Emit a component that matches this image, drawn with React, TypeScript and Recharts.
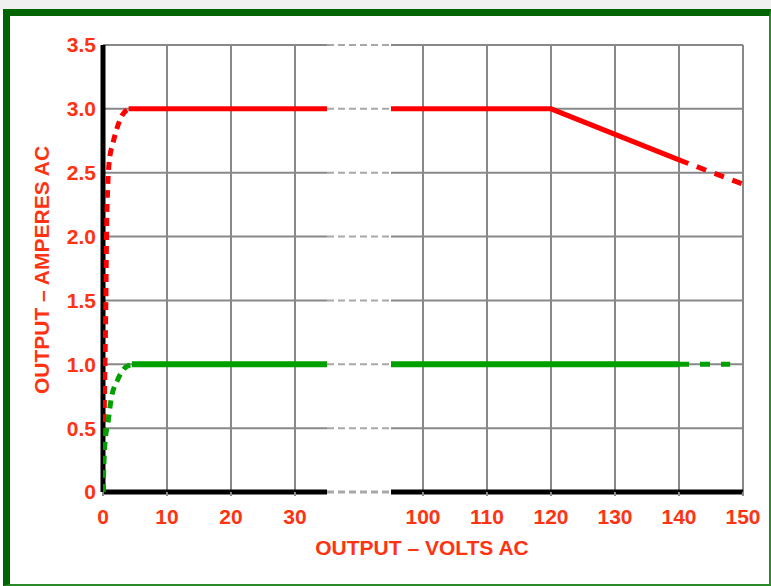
import React from 'react';
import { LineChart, Line, XAxis, YAxis, CartesianGrid, ReferenceLine } from 'recharts';

// axis is broken between 35 V and 95 V; values above the break are shifted left by 50
const BREAK_LO = 35;
const BREAK_HI = 95;
const SHIFT = 50;

const xTicks = [0, 10, 20, 30, 100, 110, 120, 130, 140, 150];
const yTicks = [0, 0.5, 1.0, 1.5, 2.0, 2.5, 3.0, 3.5];

// red (3 A) curve
const redRiseV = [0, 0.15, 0.3, 0.45, 0.55, 0.75, 1.0, 1.5, 2.2, 3.0, 4.0];
const redRiseA = [0, 0.5, 1.0, 1.5, 2.0, 2.4, 2.6, 2.72, 2.85, 2.95, 3.0];
const redLowV = [4, 35];
const redLowA = [3.0, 3.0];
const redHighV = [95, 120, 140];
const redHighA = [3.0, 3.0, 2.6];
const redTailV = [140, 150];
const redTailA = [2.6, 2.41];

// green (1 A) curve
const greenRiseV = [0, 0.15, 0.3, 0.8, 1.25, 2.3, 3.2, 4.5];
const greenRiseA = [0, 0.23, 0.38, 0.55, 0.72, 0.88, 0.96, 1.0];
const greenLowV = [4.5, 35];
const greenLowA = [1.0, 1.0];
const greenHighV = [95, 140];
const greenHighA = [1.0, 1.0];
const greenTailV = [140, 148];
const greenTailA = [1.0, 1.0];

const toAxis = (v: number) => (v >= BREAK_HI ? v - SHIFT : v);
const fromAxis = (v: number) => (v >= BREAK_HI - SHIFT ? v + SHIFT : v);
const pts = (xs: number[], ys: number[]) => xs.map((x, i) => ({ x: toAxis(x), y: ys[i] }));

const RED = '#ff0000';
const GREEN = '#00a000';
const TEXT = '#ff3311';
const GRID = '#888888';
const GAP = '#a8a8a8';
const font = '"Liberation Sans", Arial, sans-serif';
const FS = 21;

const lo = BREAK_LO;
const hi = toAxis(BREAK_HI);
const end = toAxis(150);

export default function App() {
  return (
    <div style={{ position: 'absolute', left: 0, top: 0, width: 771, height: 586, background: '#fff', fontFamily: font }}>
      <div style={{ position: 'absolute', left: 0, top: 0, width: 771, height: 9, background: '#f0f0f0' }} />
      <div
        style={{
          position: 'absolute',
          left: 3,
          top: 9,
          width: 771 - 3 - 7 - 2,
          height: 586 - 9 - 7 - 2,
          borderTop: '7px solid #006400',
          borderLeft: '7px solid #006400',
          borderRight: '2px solid #2a8a2a',
          borderBottom: '2px solid #2a8a2a',
        }}
      />
      <div style={{ position: 'absolute', left: 0, top: 0 }}>
        <LineChart width={771} height={586} margin={{ top: 45, right: 28, left: 40, bottom: 64 }}>
          <CartesianGrid horizontal={false} stroke={GRID} strokeWidth={2} />
          <XAxis
            type="number"
            dataKey="x"
            domain={[0, end]}
            ticks={xTicks.map(toAxis)}
            tickFormatter={(v: number) => String(fromAxis(v))}
            axisLine={false}
            tickLine={{ stroke: GRID, strokeWidth: 2 }}
            tickSize={4}
            tickMargin={13}
            tick={{ fill: TEXT, fontSize: FS, fontWeight: 'bold', fontFamily: font }}
            allowDataOverflow
          />
          <YAxis
            type="number"
            domain={[0, 3.5]}
            ticks={yTicks}
            tickFormatter={(v: number) => (v === 0 ? '0' : v.toFixed(1))}
            axisLine={false}
            tickLine={false}
            tickSize={0}
            tickMargin={7}
            width={63}
            tick={{ fill: TEXT, fontSize: FS, fontWeight: 'bold', fontFamily: font }}
          />
          {yTicks.filter((t) => t > 0).map((t) => (
            <ReferenceLine key={'l' + t} segment={[{ x: 0, y: t }, { x: lo, y: t }]} stroke={GRID} strokeWidth={2} ifOverflow="visible" />
          ))}
          {yTicks.filter((t) => t > 0).map((t) => (
            <ReferenceLine key={'g' + t} segment={[{ x: lo, y: t }, { x: hi, y: t }]} stroke={GAP} strokeWidth={2} strokeDasharray="7 4" ifOverflow="visible" />
          ))}
          {yTicks.filter((t) => t > 0).map((t) => (
            <ReferenceLine key={'r' + t} segment={[{ x: hi, y: t }, { x: end, y: t }]} stroke={GRID} strokeWidth={2} ifOverflow="visible" />
          ))}
          <ReferenceLine segment={[{ x: lo, y: 0 }, { x: hi, y: 0 }]} stroke={GAP} strokeWidth={3} strokeDasharray="7 4" ifOverflow="visible" />
          <ReferenceLine segment={[{ x: 0, y: 0 }, { x: lo, y: 0 }]} stroke="#000" strokeWidth={5} ifOverflow="visible" />
          <ReferenceLine segment={[{ x: hi, y: 0 }, { x: end, y: 0 }]} stroke="#000" strokeWidth={5} ifOverflow="visible" />
          <ReferenceLine segment={[{ x: 0, y: 0 }, { x: 0, y: 3.5 }]} stroke="#000" strokeWidth={5} ifOverflow="visible" />

          <Line data={pts(redRiseV, redRiseA)} dataKey="y" type="monotone" stroke={RED} strokeWidth={5} strokeDasharray="8 6" dot={false} isAnimationActive={false} />
          <Line data={pts(redLowV, redLowA)} dataKey="y" type="linear" stroke={RED} strokeWidth={5} dot={false} isAnimationActive={false} />
          <Line data={pts(redHighV, redHighA)} dataKey="y" type="linear" stroke={RED} strokeWidth={5} dot={false} isAnimationActive={false} />
          <Line data={pts(redTailV, redTailA)} dataKey="y" type="linear" stroke={RED} strokeWidth={5} strokeDasharray="10 9" dot={false} isAnimationActive={false} />
          <Line data={pts(greenRiseV, greenRiseA)} dataKey="y" type="monotone" stroke={GREEN} strokeWidth={5} strokeDasharray="8 6" dot={false} isAnimationActive={false} />
          <Line data={pts(greenLowV, greenLowA)} dataKey="y" type="linear" stroke={GREEN} strokeWidth={6} dot={false} isAnimationActive={false} />
          <Line data={pts(greenHighV, greenHighA)} dataKey="y" type="linear" stroke={GREEN} strokeWidth={6} dot={false} isAnimationActive={false} />
          <Line data={pts(greenTailV, greenTailA)} dataKey="y" type="linear" stroke={GREEN} strokeWidth={5} strokeDasharray="10 11" dot={false} isAnimationActive={false} />
        </LineChart>
      </div>
      <div
        style={{
          position: 'absolute',
          left: 422,
          top: 548,
          transform: 'translate(-50%, -50%)',
          whiteSpace: 'nowrap',
          color: TEXT,
          fontWeight: 'bold',
          fontSize: FS,
        }}
      >
        OUTPUT – VOLTS AC
      </div>
      <div
        style={{
          position: 'absolute',
          left: 42,
          top: 270,
          transform: 'translate(-50%, -50%) rotate(-90deg)',
          whiteSpace: 'nowrap',
          color: TEXT,
          fontWeight: 'bold',
          fontSize: FS,
        }}
      >
        OUTPUT – AMPERES AC
      </div>
    </div>
  );
}
